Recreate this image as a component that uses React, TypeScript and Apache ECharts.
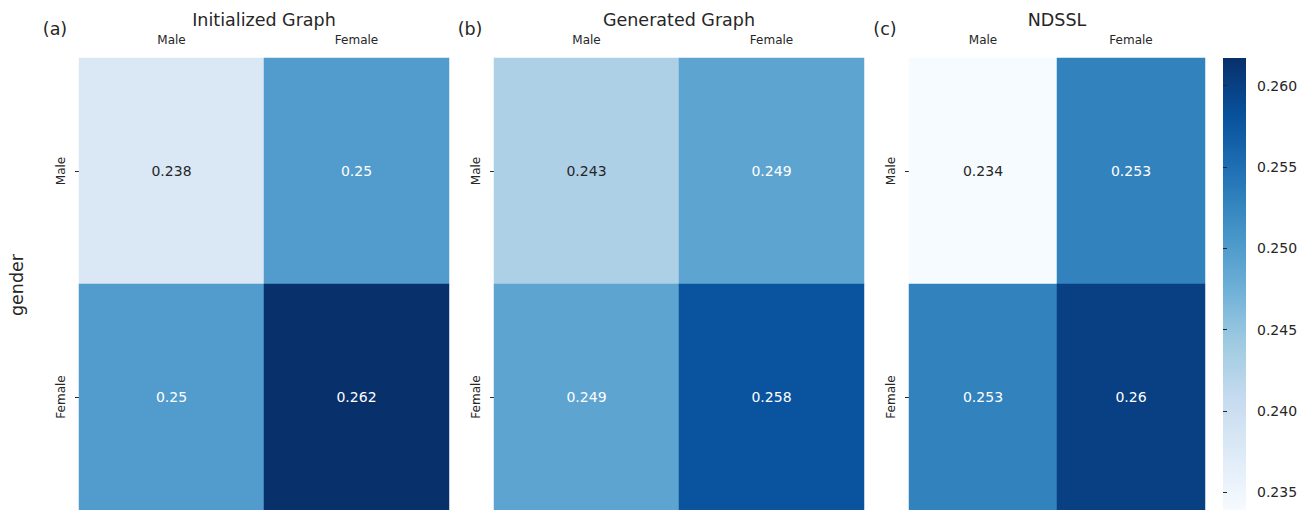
import React, { useEffect, useRef } from "react";
import * as echarts from "echarts";

// Category labels shared by every panel
const genders = ["Male", "Female"];

// Panel titles and letters
const panelTitles = ["Initialized Graph", "Generated Graph", "NDSSL"];
const panelLetters = ["(a)", "(b)", "(c)"];

// Mixing matrices: rows = source gender, columns = target gender
const initializedValues = [
  [0.238, 0.25],
  [0.25, 0.262],
];
const generatedValues = [
  [0.243, 0.249],
  [0.249, 0.258],
];
const ndsslValues = [
  [0.234, 0.253],
  [0.253, 0.26],
];

// Colour scale range and colorbar ticks
const scaleMin = 0.2339;
const scaleMax = 0.2617;
const colorbarTicks = [0.235, 0.24, 0.245, 0.25, 0.255, 0.26];

// matplotlib "Blues" colormap stops
const blues = [
  "#f7fbff",
  "#deebf7",
  "#c6dbef",
  "#9ecae1",
  "#6baed6",
  "#4292c6",
  "#2171b5",
  "#08519c",
  "#08306b",
];

const FONT = "DejaVu Sans";
const TEXT = "#262626";

// Pixel layout of the three panels and the colorbar
const panels = [
  { left: 79, width: 370 },
  { left: 494, width: 370 },
  { left: 909, width: 296 },
];
const barBox = { left: 1223, width: 23 };
const TOP = 58;
const HEIGHT = 454;

function toCells(m: number[][]) {
  const cells: any[] = [];
  m.forEach((row, r) =>
    row.forEach((v, c) => {
      cells.push({
        value: [c, r, v],
        label: { color: v < 0.246 ? TEXT : "#ffffff" },
      });
    })
  );
  return cells;
}

export default function App() {
  const ref = useRef<HTMLDivElement>(null);

  useEffect(() => {
    if (!ref.current) return;
    const chart = echarts.init(ref.current, undefined, { renderer: "svg" });
    const matrices = [initializedValues, generatedValues, ndsslValues];

    const grids: any[] = panels.map((p) => ({
      left: p.left,
      width: p.width,
      top: TOP,
      height: HEIGHT,
      containLabel: false,
    }));
    grids.push({ left: barBox.left, width: barBox.width, top: TOP, height: HEIGHT });

    const xAxes: any[] = panels.map((_, i) => ({
      type: "category",
      gridIndex: i,
      data: genders,
      position: "top",
      axisLine: { show: false },
      axisTick: { show: false },
      splitArea: { show: false },
      axisLabel: { fontFamily: FONT, fontSize: 12, color: TEXT, margin: 12 },
    }));
    xAxes.push({ type: "value", gridIndex: 3, show: false, min: 0, max: 1 });

    const yAxes: any[] = panels.map((_, i) => ({
      type: "category",
      gridIndex: i,
      data: genders,
      inverse: true,
      axisLine: { show: false },
      axisTick: {
        show: true,
        alignWithLabel: true,
        length: 4,
        lineStyle: { color: TEXT },
      },
      splitArea: { show: false },
      axisLabel: {
        fontFamily: FONT,
        fontSize: 12,
        color: TEXT,
        rotate: 90,
        margin: 12,
      },
    }));
    yAxes.push({
      type: "value",
      gridIndex: 3,
      position: "right",
      min: scaleMin,
      max: scaleMax,
      splitLine: { show: false },
      axisLine: { show: false },
      axisTick: {
        show: true,
        length: 4,
        customValues: colorbarTicks,
        lineStyle: { color: TEXT },
      },
      axisLabel: {
        customValues: colorbarTicks,
        fontFamily: FONT,
        fontSize: 14,
        color: TEXT,
        margin: 11,
        formatter: (v: number) => v.toFixed(3),
      },
    });

    const series: any[] = matrices.map((m, i) => ({
      type: "heatmap",
      xAxisIndex: i,
      yAxisIndex: i,
      data: toCells(m),
      label: {
        show: true,
        fontFamily: FONT,
        fontSize: 14,
        formatter: (p: any) => String(p.value[2]),
      },
      itemStyle: { borderWidth: 0 },
      emphasis: { disabled: true },
    }));

    const graphics: any[] = [];
    panels.forEach((p, i) => {
      graphics.push({
        type: "text",
        x: p.left + p.width / 2,
        y: 20,
        style: {
          text: panelTitles[i],
          fontFamily: FONT,
          fontSize: 17.5,
          fill: TEXT,
          align: "center",
          verticalAlign: "middle",
        },
      });
      graphics.push({
        type: "text",
        x: p.left - 24,
        y: 29,
        style: {
          text: panelLetters[i],
          fontFamily: FONT,
          fontSize: 17.5,
          fill: TEXT,
          align: "center",
          verticalAlign: "middle",
        },
      });
    });
    graphics.push({
      type: "text",
      x: 17,
      y: 285,
      rotation: Math.PI / 2,
      style: {
        text: "gender",
        fontFamily: FONT,
        fontSize: 17.5,
        fill: TEXT,
        align: "center",
        verticalAlign: "middle",
      },
    });
    // Colorbar gradient
    graphics.push({
      type: "rect",
      shape: { x: barBox.left, y: TOP, width: barBox.width, height: HEIGHT },
      style: {
        fill: new echarts.graphic.LinearGradient(
          0,
          1,
          0,
          0,
          blues.map((c, k) => ({ offset: k / (blues.length - 1), color: c }))
        ),
      },
      z: -1,
    });

    chart.setOption({
      animation: false,
      backgroundColor: "#ffffff",
      textStyle: { fontFamily: FONT },
      grid: grids,
      xAxis: xAxes,
      yAxis: yAxes,
      visualMap: {
        show: false,
        type: "continuous",
        min: scaleMin,
        max: scaleMax,
        dimension: 2,
        seriesIndex: [0, 1, 2],
        inRange: { color: blues },
      },
      series,
      graphic: graphics,
    });

    return () => chart.dispose();
  }, []);

  return (
    <div
      ref={ref}
      style={{ position: "fixed", left: 0, top: 0, width: 1302, height: 510 }}
    />
  );
}
